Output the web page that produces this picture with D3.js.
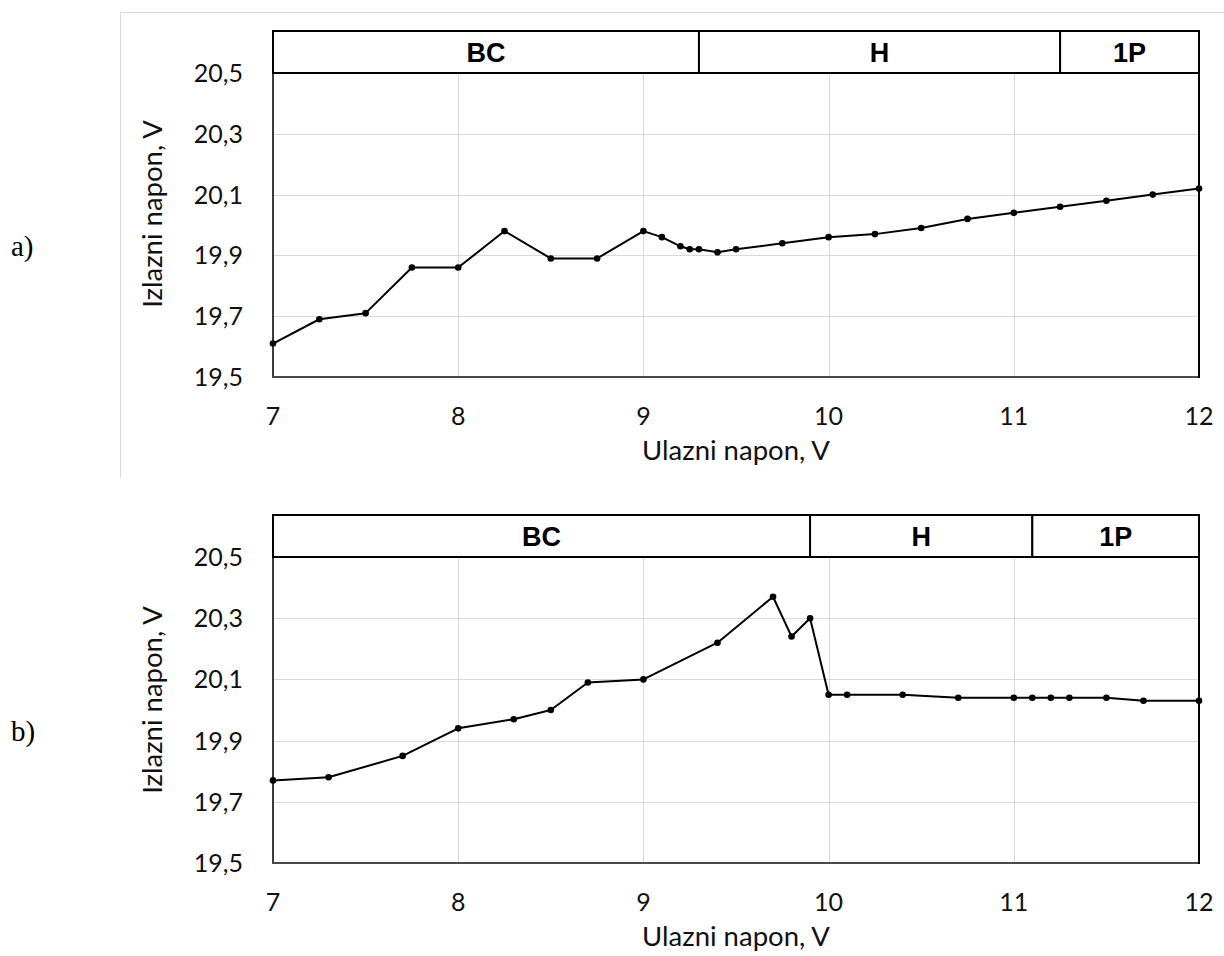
<!DOCTYPE html>
<html>
<head>
<meta charset="utf-8">
<script src="https://cdn.jsdelivr.net/npm/d3@7"></script>
<style>
  html, body { margin: 0; padding: 0; background: #fff; }
  svg { display: block; }
</style>
</head>
<body>
<script>
// ---- data ----
const xTicks = [7, 8, 9, 10, 11, 12];
const xTickLabels = ["7", "8", "9", "10", "11", "12"];
const yTicks = [19.5, 19.7, 19.9, 20.1, 20.3, 20.5];
const yTickLabels = ["19,5", "19,7", "19,9", "20,1", "20,3", "20,5"];

const inputA  = [7, 7.25, 7.5, 7.75, 8, 8.25, 8.5, 8.75, 9, 9.1, 9.2, 9.25, 9.3, 9.4, 9.5, 9.75, 10, 10.25, 10.5, 10.75, 11, 11.25, 11.5, 11.75, 12];
const outputA = [19.61, 19.69, 19.71, 19.86, 19.86, 19.98, 19.89, 19.89, 19.98, 19.96, 19.93, 19.92, 19.92, 19.91, 19.92, 19.94, 19.96, 19.97, 19.99, 20.02, 20.04, 20.06, 20.08, 20.10, 20.12];

const inputB  = [7, 7.3, 7.7, 8, 8.3, 8.5, 8.7, 9, 9.4, 9.7, 9.8, 9.9, 10, 10.1, 10.4, 10.7, 11, 11.1, 11.2, 11.3, 11.5, 11.7, 12];
const outputB = [19.77, 19.78, 19.85, 19.94, 19.97, 20.00, 20.09, 20.10, 20.22, 20.37, 20.24, 20.30, 20.05, 20.05, 20.05, 20.04, 20.04, 20.04, 20.04, 20.04, 20.04, 20.03, 20.03];

const regionNames = ["BC", "H", "1P"];
const regionBoundsA = [7, 9.3, 11.25, 12];
const regionBoundsB = [7, 9.9, 11.1, 12];

const panelLabels = ["a)", "b)"];
const xTitle = "Ulazni napon, V";
const yTitle = "Izlazni napon, V";

// ---- drawing ----
const W = 1224, H = 956;
const svg = d3.select("body").append("svg").attr("width", W).attr("height", H);

// light frame around upper panel
svg.append("path")
  .attr("d", "M120.5,478 L120.5,12.5 L1224,12.5")
  .attr("fill", "none").attr("stroke", "#d9d9d9").attr("stroke-width", 1);

const sans = "Lato, 'Open Sans', sans-serif";

function drawPanel(cfg) {
  const left = 273, right = 1199;
  const top = cfg.top, bottom = cfg.bottom;
  const headH = 42;
  const x = d3.scaleLinear().domain([7, 12]).range([left, right]);
  const y = d3.scaleLinear().domain([19.5, 20.5]).range([bottom, top]);
  const g = svg.append("g");

  // grid
  g.append("g").selectAll("line.v").data(xTicks.slice(1, -1)).join("line")
    .attr("x1", d => Math.round(x(d)) + 0.5).attr("x2", d => Math.round(x(d)) + 0.5)
    .attr("y1", top).attr("y2", bottom)
    .attr("stroke", "#d9d9d9").attr("stroke-width", 1);
  g.append("g").selectAll("line.h").data(yTicks.slice(1, -1)).join("line")
    .attr("x1", left).attr("x2", right)
    .attr("y1", d => Math.round(y(d)) + 0.5).attr("y2", d => Math.round(y(d)) + 0.5)
    .attr("stroke", "#d9d9d9").attr("stroke-width", 1);

  // axes lines
  g.append("line").attr("x1", left).attr("x2", left).attr("y1", top).attr("y2", bottom + 1)
    .attr("stroke", "#3a3a3a").attr("stroke-width", 2);
  g.append("line").attr("x1", left - 1).attr("x2", right).attr("y1", bottom).attr("y2", bottom)
    .attr("stroke", "#4a4a4a").attr("stroke-width", 2);
  g.append("line").attr("x1", right).attr("x2", right).attr("y1", top).attr("y2", bottom + 1)
    .attr("stroke", "#000").attr("stroke-width", 2);

  // tick labels
  g.append("g").selectAll("text").data(yTicks).join("text")
    .attr("x", 243).attr("y", d => y(d) + 9)
    .attr("text-anchor", "end")
    .attr("font-family", sans).attr("font-size", 25).attr("fill", "#111")
    .text((d, i) => yTickLabels[i]);
  g.append("g").selectAll("text").data(xTicks).join("text")
    .attr("x", d => x(d)).attr("y", bottom + 48)
    .attr("text-anchor", "middle")
    .attr("font-family", sans).attr("font-size", 25).attr("fill", "#111")
    .text((d, i) => xTickLabels[i]);

  // axis titles
  g.append("text").attr("x", (left + right) / 2).attr("y", bottom + 83)
    .attr("text-anchor", "middle").attr("font-family", sans).attr("font-size", 27.5)
    .attr("fill", "#111").text(xTitle);
  g.append("text")
    .attr("transform", `translate(162,${bottom - 163}) rotate(-90)`)
    .attr("text-anchor", "middle").attr("font-family", sans).attr("font-size", 27.5)
    .attr("fill", "#111").text(yTitle);

  // header band
  const hb = cfg.bounds;
  const segs = regionNames.map((n, i) => ({ name: n, a: hb[i], b: hb[i + 1] }));
  const hg = g.append("g");
  hg.selectAll("rect").data(segs).join("rect")
    .attr("x", d => x(d.a)).attr("width", d => x(d.b) - x(d.a))
    .attr("y", top - headH).attr("height", headH)
    .attr("fill", "#fff").attr("stroke", "#000").attr("stroke-width", 2);
  hg.selectAll("text").data(segs).join("text")
    .attr("x", d => (x(d.a) + x(d.b)) / 2).attr("y", top - headH / 2 + 10)
    .attr("text-anchor", "middle")
    .attr("font-family", "'Liberation Sans', Arial, sans-serif").attr("font-weight", "bold")
    .attr("font-size", 27).attr("fill", "#000")
    .text(d => d.name);

  // line + markers
  const pts = cfg.xs.map((v, i) => [v, cfg.ys[i]]);
  g.append("path").datum(pts)
    .attr("d", d3.line().x(d => x(d[0])).y(d => y(d[1])))
    .attr("fill", "none").attr("stroke", "#000").attr("stroke-width", 2)
    .attr("stroke-linejoin", "round");
  g.append("g").selectAll("circle").data(pts).join("circle")
    .attr("cx", d => x(d[0])).attr("cy", d => y(d[1])).attr("r", 3.3)
    .attr("fill", "#000");

  // panel label
  svg.append("text").attr("x", 11).attr("y", cfg.labelY)
    .attr("font-family", "'Liberation Serif', 'Times New Roman', serif")
    .attr("font-size", 29).attr("fill", "#000").text(cfg.label);
}

drawPanel({ top: 73, bottom: 377, xs: inputA, ys: outputA, bounds: regionBoundsA, label: panelLabels[0], labelY: 256 });
drawPanel({ top: 557, bottom: 863, xs: inputB, ys: outputB, bounds: regionBoundsB, label: panelLabels[1], labelY: 741 });
</script>
</body>
</html>
